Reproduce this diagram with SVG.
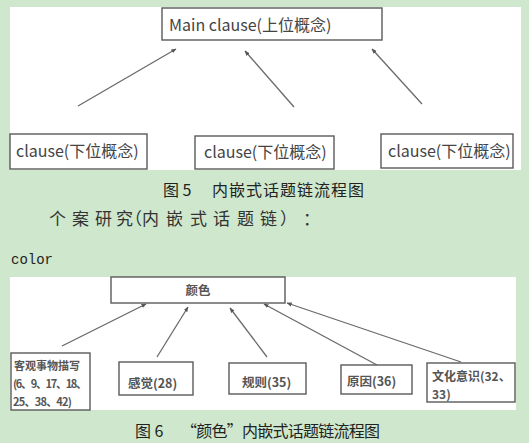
<svg xmlns="http://www.w3.org/2000/svg" width="529" height="443" viewBox="0 0 529 443">
<style>
.panel{fill:#ffffff}
.box{fill:#ffffff;stroke:#5a5a5a;stroke-width:1.4}
.t{font-family:"Noto Sans CJK SC","Noto Sans",sans-serif;fill:#444444}
.big{font-size:16px}
.sm{font-size:11px;font-weight:bold;fill:#555555}
.md{font-size:12.5px;font-weight:bold;fill:#555555}
.cap{font-family:"Noto Sans CJK SC",sans-serif;font-size:16px;fill:#222222}
.conn line{stroke:#6a6a6a;stroke-width:1.3;marker-end:url(#ah)}
</style>
<defs>
<marker id="ah" viewBox="0 0 10 10" refX="9" refY="5" markerWidth="4" markerHeight="4" orient="auto" markerUnits="strokeWidth">
<path d="M0,1 L10,5 L0,9 z" fill="#555555"/>
</marker>
</defs>
<rect x="0" y="0" width="529" height="443" fill="#cfe8cd"/>
<rect class="panel" x="10" y="7" width="511" height="163"/>
<rect class="panel" x="10" y="277" width="506" height="133"/>

<g class="conn">
<line x1="78" y1="106" x2="176" y2="49"/>
<line x1="294" y1="107" x2="245" y2="51"/>
<line x1="422" y1="104" x2="372" y2="49"/>
<line x1="62" y1="346" x2="146" y2="304"/>
<line x1="157" y1="357" x2="188" y2="307"/>
<line x1="267" y1="357" x2="230" y2="308"/>
<line x1="377" y1="365" x2="264" y2="304"/>
<line x1="461" y1="362" x2="287" y2="303"/>
</g>

<g id="main">
<rect class="box" x="162" y="8" width="220" height="32"/>
<text class="t big" x="169" y="31">Main clause(上位概念)</text>
</g>
<g id="sub1">
<rect class="box" x="10" y="134" width="137" height="35"/>
<text class="t big" x="16" y="157">clause(下位概念)</text>
</g>
<g id="sub2">
<rect class="box" x="195" y="136" width="139" height="33"/>
<text class="t big" x="204" y="158">clause(下位概念)</text>
</g>
<g id="sub3">
<rect class="box" x="381" y="134" width="132" height="34"/>
<text class="t big" x="388" y="157">clause(下位概念)</text>
</g>

<text class="cap" x="163" y="196">图 5</text>
<text class="cap" x="212" y="196" textLength="152" lengthAdjust="spacing">内嵌式话题链流程图</text>

<text class="cap" style="font-size:17px;fill:#333333" y="225" x="49 72 95 116 125 142 166 190 213 237 260 280 303">个案研究（内嵌式话题链）：</text>

<text x="11" y="264" style="font-family:'Liberation Mono',monospace;font-size:14px;fill:#222222">color</text>

<g id="color">
<rect class="box" x="111" y="277" width="174" height="26"/>
<text class="t md" x="198" y="295" text-anchor="middle">颜色</text>
</g>
<g id="n1">
<rect class="box" x="11" y="353" width="79" height="57"/>
<text class="t sm" x="14" y="370">客观事物描写</text>
<text class="t sm" x="13" y="388" textLength="74" lengthAdjust="spacing">(6、9、17、18、</text>
<text class="t sm" x="13" y="406" textLength="59" lengthAdjust="spacing">25、38、42)</text>
</g>
<g id="n2">
<rect class="box" x="119" y="362" width="74" height="33"/>
<text class="t md" x="128" y="388">感觉(28)</text>
</g>
<g id="n3">
<rect class="box" x="229" y="363" width="77" height="31"/>
<text class="t md" x="242" y="387">规则(35)</text>
</g>
<g id="n4">
<rect class="box" x="341" y="365" width="71" height="29"/>
<text class="t md" x="347" y="386">原因(36)</text>
</g>
<g id="n5">
<rect class="box" x="427" y="363" width="88" height="39"/>
<text class="t md" style="font-size:12px" x="432" y="381">文化意识(32、</text>
<text class="t md" style="font-size:12px" x="432" y="399">33)</text>
</g>

<text class="cap" x="135" y="437">图 6</text>
<text class="cap" x="181" y="437" textLength="199" lengthAdjust="spacing">“颜色”内嵌式话题链流程图</text>
</svg>
